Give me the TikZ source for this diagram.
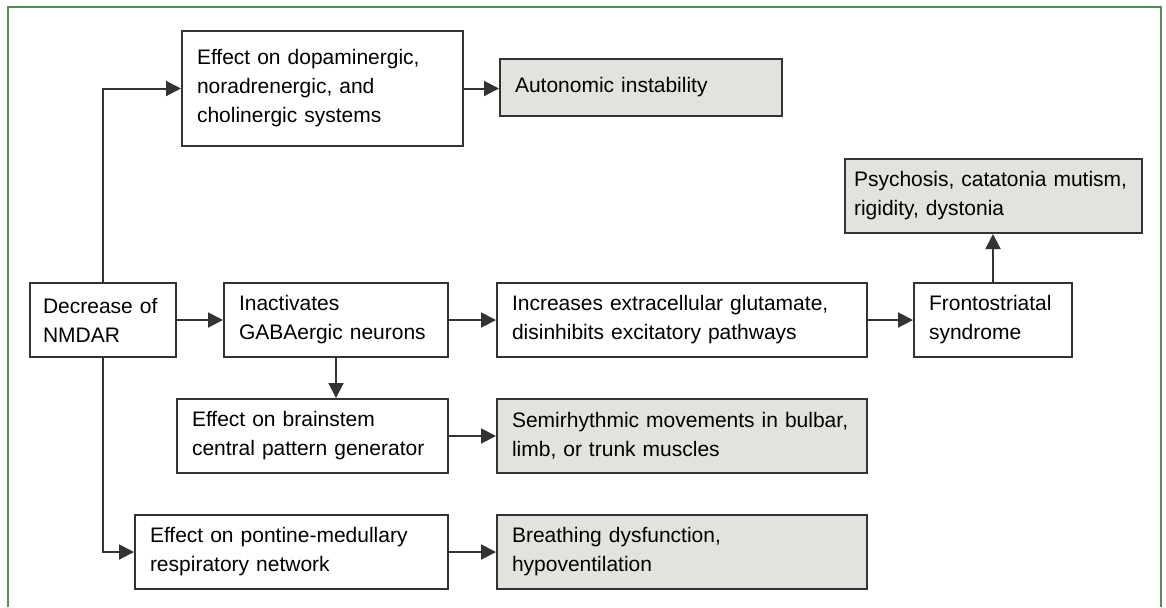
\documentclass[tikz,border=0pt]{standalone}
\usepackage{fontspec}
\setmainfont{Liberation Sans}
\usetikzlibrary{arrows.meta}
\definecolor{resgray}{RGB}{225,228,222}
\definecolor{framegreen}{RGB}{80,145,90}
\begin{document}
\begin{tikzpicture}[x=.5pt,y=-.5pt,
            box/.style={draw=black!80,line width=1pt,inner xsep=7.5pt,inner ysep=0pt,
                align=left,text width=#1,minimum height=37pt,
                font=\fontsize{10.5}{14.5}\selectfont},
            res/.style={box=#1,fill=resgray}]
            \useasboundingbox (0,0) rectangle (1166,607);
            \draw[framegreen,line width=.7pt] (8,607)--(8,7)--(1161,7)--(1161,607);
            \path
            (322.5,88.5) node[box=125.5pt,minimum height=57.5pt] (A)
                {Effect on dopaminergic,\\noradrenergic, and\\cholinergic systems} % <<< hàng 1
            (641,87.5) node[res=126pt,minimum height=28.5pt] (B) {Autonomic instability}
            (993.5,196) node[res=139.5pt,inner xsep=4.5pt] (G)
                {Psychosis, catatonia mutism,\\rigidity, dystonia}
            (102.75,320) node[box=59.75pt,inner xsep=6.5pt] (C) {Decrease of\\NMDAR} % <<< hàng 2
            (336,320) node[box=97pt] (D) {Inactivates\\GABAergic neurons}
            (682,320) node[box=170pt] (E)
                {Increases extracellular glutamate,\\disinhibits excitatory pathways}
            (993,320) node[box=64pt] (F) {Frontostriatal\\syndrome}
            (312.5,436) node[box=120.5pt] (H) {Effect on brainstem\\central pattern generator} % <<< hàng 3
            (682,436) node[res=170pt] (I) {Semirhythmic movements in bulbar,\\limb, or trunk muscles}
            (291.5,552) node[box=141.5pt] (J) {Effect on pontine-medullary\\respiratory network} % <<< hàng 4
            (682,552) node[res=170pt] (K) {Breathing dysfunction,\\hypoventilation};
            \begin{scope}[-{Triangle[length=7.5pt,width=7.5pt]},draw=black!80,line width=1pt]
                \draw (C.north) |- (A.west);
                \draw (A.east)--(A.east -| B.west);
                \draw (C)--(D);
                \draw (D)--(E);
                \draw (E)--(F);
                \draw (F.north)--(F.north |- G.south);
                \draw (D.south)--(D.south |- H.north);
                \draw (H)--(I);
                \draw (C.south) |- (J.west);
                \draw (J)--(K);
            \end{scope}
        \end{tikzpicture}
\end{document}
